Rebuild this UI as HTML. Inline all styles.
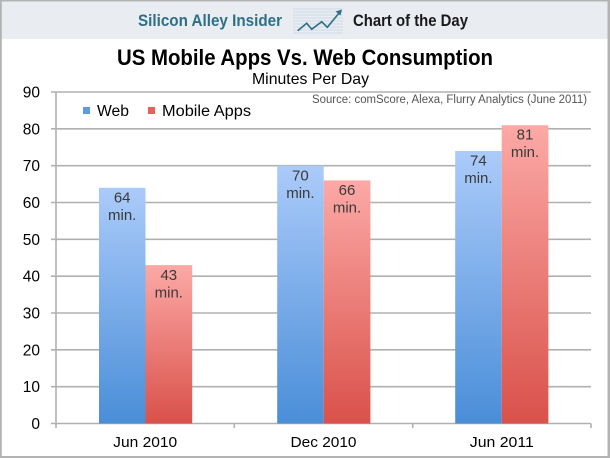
<!DOCTYPE html>
<html><head><meta charset="utf-8"><style>
html,body{margin:0;padding:0;background:#fff;}
svg{display:block;}
text{font-family:"Liberation Sans",sans-serif;}
</style></head><body>
<svg width="610" height="458" viewBox="0 0 610 458" xmlns="http://www.w3.org/2000/svg">
<defs>
<linearGradient id="gb" x1="0" y1="0" x2="0" y2="1">
<stop offset="0" stop-color="#abcbfa"/><stop offset="1" stop-color="#4a8ed8"/>
</linearGradient>
<linearGradient id="gr" x1="0" y1="0" x2="0" y2="1">
<stop offset="0" stop-color="#fca9a6"/><stop offset="1" stop-color="#d9514a"/>
</linearGradient>
</defs>
<rect x="0" y="0" width="610" height="458" fill="#fff"/>
<rect x="0" y="0" width="610" height="39" fill="#e9edf2"/>
<!-- borders -->
<rect x="0" y="0" width="610" height="1.5" fill="#b3b3b3"/>
<rect x="0" y="0" width="1.8" height="458" fill="#b3b3b3"/>
<rect x="607.5" y="0" width="2.5" height="458" fill="#b3b3b3"/>
<rect x="0" y="456" width="610" height="2" fill="#b3b3b3"/>

<!-- header -->
<text x="138" y="26" font-size="16.5" font-weight="bold" fill="#2e6f86" textLength="144" lengthAdjust="spacingAndGlyphs">Silicon Alley Insider</text>
<g stroke="#c3d6e2" stroke-width="0.8">
<line x1="293" y1="9" x2="343" y2="9"/><line x1="293" y1="12" x2="343" y2="12"/>
<line x1="293" y1="15" x2="343" y2="15"/><line x1="293" y1="18" x2="343" y2="18"/>
<line x1="293" y1="21" x2="343" y2="21"/><line x1="293" y1="24" x2="343" y2="24"/>
<line x1="293" y1="27" x2="343" y2="27"/><line x1="293" y1="30" x2="343" y2="30"/>
<line x1="293" y1="33" x2="343" y2="33"/>
</g>
<polyline points="297.7,30.7 306.7,23.3 311.7,29.3 321.7,21.7 327.3,27.3 339.5,12.5" fill="none" stroke="#2e6f86" stroke-width="1.6"/>
<polygon points="342,9.5 335.5,11.5 340.5,15.5" fill="#2e6f86"/>
<text x="353" y="26" font-size="16.5" font-weight="bold" fill="#1a1a1a" textLength="115" lengthAdjust="spacingAndGlyphs">Chart of the Day</text>

<!-- titles -->
<text x="117" y="65" font-size="22" font-weight="bold" fill="#000" textLength="376" lengthAdjust="spacingAndGlyphs">US Mobile Apps Vs. Web Consumption</text>
<text x="252" y="84" font-size="16" fill="#000" textLength="117" lengthAdjust="spacingAndGlyphs">Minutes Per Day</text>

<!-- gridlines -->
<g stroke="#b0b0b0" stroke-width="1.6">
<line x1="51" y1="92" x2="591" y2="92"/>
<line x1="51" y1="128.8" x2="591" y2="128.8"/>
<line x1="51" y1="165.7" x2="591" y2="165.7"/>
<line x1="51" y1="202.5" x2="591" y2="202.5"/>
<line x1="51" y1="239.3" x2="591" y2="239.3"/>
<line x1="51" y1="276.2" x2="591" y2="276.2"/>
<line x1="51" y1="313" x2="591" y2="313"/>
<line x1="51" y1="349.8" x2="591" y2="349.8"/>
<line x1="51" y1="386.7" x2="591" y2="386.7"/>
<line x1="51" y1="423.5" x2="591" y2="423.5"/>
<line x1="56" y1="92" x2="56" y2="428"/>
<line x1="234.3" y1="423.5" x2="234.3" y2="428"/>
<line x1="412.7" y1="423.5" x2="412.7" y2="428"/>
<line x1="591" y1="423.5" x2="591" y2="428"/>
</g>

<!-- y labels -->
<g font-size="15.5" fill="#000" text-anchor="end">
<text x="40" y="97.5">90</text>
<text x="40" y="134.3">80</text>
<text x="40" y="171.2">70</text>
<text x="40" y="208">60</text>
<text x="40" y="244.8">50</text>
<text x="40" y="281.7">40</text>
<text x="40" y="318.5">30</text>
<text x="40" y="355.3">20</text>
<text x="40" y="392.2">10</text>
<text x="40" y="429">0</text>
</g>

<!-- bars -->
<rect x="99" y="187.8" width="46.5" height="235.7" fill="url(#gb)"/>
<rect x="145.5" y="265.1" width="46.7" height="158.4" fill="url(#gr)"/>
<rect x="277.2" y="165.7" width="46.5" height="257.8" fill="url(#gb)"/>
<rect x="323.7" y="180.4" width="46.7" height="243.1" fill="url(#gr)"/>
<rect x="455.2" y="151" width="46.5" height="272.5" fill="url(#gb)"/>
<rect x="501.7" y="125.2" width="46.7" height="298.3" fill="url(#gr)"/>

<!-- bar labels -->
<g font-size="15" fill="#3a3a3a" text-anchor="middle">
<text x="122.2" y="202.5">64</text><text x="122.2" y="220">min.</text>
<text x="168.8" y="279.8">43</text><text x="168.8" y="297.3">min.</text>
<text x="300.4" y="180.4">70</text><text x="300.4" y="197.9">min.</text>
<text x="347" y="195.1">66</text><text x="347" y="212.6">min.</text>
<text x="478.4" y="165.7">74</text><text x="478.4" y="183.2">min.</text>
<text x="525" y="139.4">81</text><text x="525" y="156.9">min.</text>
</g>

<!-- legend -->
<rect x="83" y="107" width="7" height="7" fill="#5b9be0"/>
<text x="97" y="116" font-size="15.5" fill="#000" textLength="32" lengthAdjust="spacingAndGlyphs">Web</text>
<rect x="148" y="107" width="7" height="7" fill="#e8605a"/>
<text x="162" y="116" font-size="15.5" fill="#000" textLength="89" lengthAdjust="spacingAndGlyphs">Mobile Apps</text>

<!-- source -->
<text x="312" y="103" font-size="11.5" fill="#555" textLength="275" lengthAdjust="spacingAndGlyphs">Source: comScore, Alexa, Flurry Analytics (June 2011)</text>

<!-- x labels -->
<g font-size="15" fill="#000" text-anchor="middle">
<text x="145.2" y="447" textLength="64" lengthAdjust="spacingAndGlyphs">Jun 2010</text>
<text x="323.5" y="447" textLength="66" lengthAdjust="spacingAndGlyphs">Dec 2010</text>
<text x="501.8" y="447" textLength="64" lengthAdjust="spacingAndGlyphs">Jun 2011</text>
</g>
</svg>
</body></html>
